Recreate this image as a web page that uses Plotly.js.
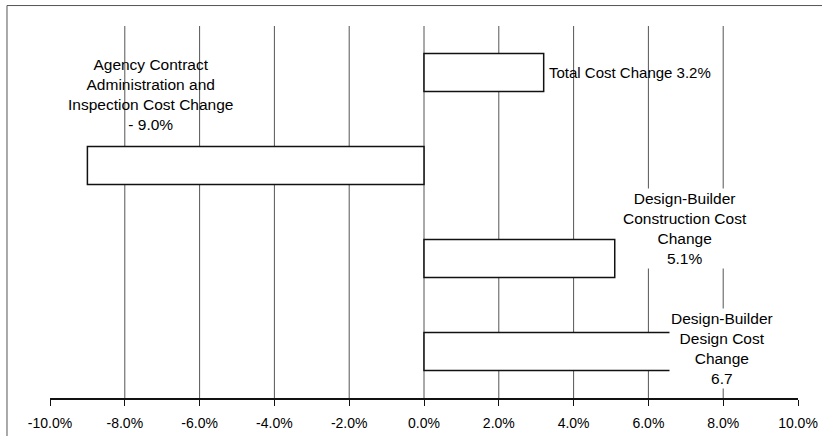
<!DOCTYPE html>
<html>
<head>
<meta charset="utf-8">
<script src="https://cdn.plot.ly/plotly-3.0.1.min.js"></script>
<style>html,body{margin:0;padding:0;background:#fff;}#chart{width:822px;height:436px;}</style>
</head>
<body>
<div id="chart"></div>
<script>
// Data
var categories = ["Total Cost Change", "Agency Contract Administration and Inspection Cost Change", "Design-Builder Construction Cost Change", "Design-Builder Design Cost Change"];
var values = [3.2, -9.0, 5.1, 6.7];
var labels = ["Total Cost Change 3.2%", "Agency Contract<br>Administration and<br>Inspection Cost Change<br>- 9.0%", "Design-Builder<br>Construction Cost<br>Change<br>5.1%", "Design-Builder<br>Design Cost<br>Change<br>6.7"];
var tickVals = [-10, -8, -6, -4, -2, 0, 2, 4, 6, 8, 10];
var tickText = ["-10.0%", "-8.0%", "-6.0%", "-4.0%", "-2.0%", "0.0%", "2.0%", "4.0%", "6.0%", "8.0%", "10.0%"];
var gridVals = [-8, -6, -4, -2, 0, 2, 4, 6, 8];

var font = {family: "Arial, 'Liberation Sans', sans-serif", color: "#000"};

var trace = {
  type: "bar",
  orientation: "h",
  x: values,
  y: categories,
  width: 0.41,
  marker: {color: "#ffffff", line: {color: "#111", width: 1.5}},
  hoverinfo: "none"
};

var shapes = gridVals.map(function (v) {
  return {type: "line", xref: "x", yref: "paper", x0: v, x1: v, y0: 0, y1: 1,
          line: {color: "#555", width: 1}, layer: "below"};
});
shapes.push({type: "rect", xref: "paper", yref: "paper", x0: -0.0575, x1: 1.2, y0: -0.3, y1: 1.055,
             line: {color: "#555", width: 1}, fillcolor: "rgba(0,0,0,0)", layer: "below"});

var annotations = [
  {x: values[0], y: 0, xref: "x", yref: "y", text: labels[0], showarrow: false, xanchor: "left", xshift: 3,
   font: Object.assign({size: 15}, font)},
  {x: -7.3, y: 0.24, xref: "x", yref: "y", text: labels[1], showarrow: false, xanchor: "center", yanchor: "middle",
   font: Object.assign({size: 15.5}, font)},
  {x: 6.98, y: 1.68, xref: "x", yref: "y", text: labels[2], showarrow: false, xanchor: "center", yanchor: "middle",
   font: Object.assign({size: 15.5}, font), bgcolor: "#ffffff"},
  {x: 7.97, y: 2.97, xref: "x", yref: "y", text: labels[3], showarrow: false, xanchor: "center", yanchor: "middle",
   font: Object.assign({size: 15.5}, font), bgcolor: "#ffffff", borderpad: 1}
];

var layout = {
  width: 822, height: 436,
  margin: {l: 50, r: 24, t: 26, b: 38},
  paper_bgcolor: "#ffffff", plot_bgcolor: "#ffffff",
  showlegend: false,
  font: font,
  xaxis: {
    range: [-10, 10], tickvals: tickVals, ticktext: tickText,
    showgrid: false, zeroline: false,
    showline: true, linecolor: "#111", linewidth: 1.5,
    ticks: "outside", ticklen: 6, tickcolor: "#111", tickwidth: 1,
    ticklabelstandoff: 6,
    tickfont: Object.assign({size: 14}, font),
    fixedrange: true
  },
  yaxis: {
    type: "category", categoryorder: "array", categoryarray: categories,
    autorange: "reversed", range: [3.5, -0.5],
    showticklabels: false, showgrid: false, zeroline: false, showline: false, ticks: "",
    fixedrange: true
  },
  shapes: shapes,
  annotations: annotations
};

Plotly.newPlot("chart", [trace], layout, {displayModeBar: false, staticPlot: true});
</script>
</body>
</html>
